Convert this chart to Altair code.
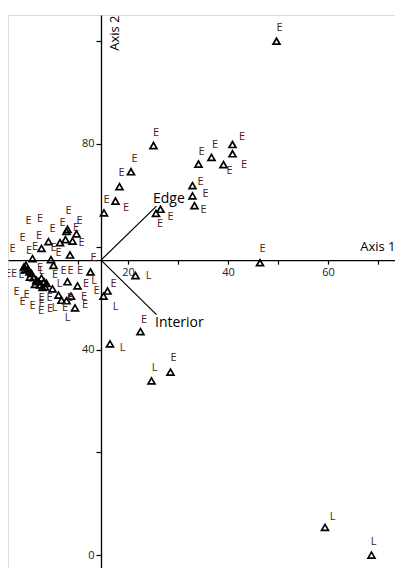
import altair as alt
import pandas as pd

# ---- site scores (triangles) ----
site_x = [49.7, 40.9, 40.9, 39.1, 36.7, 34.1, 32.9, 32.9, 33.3, 25.1, 20.6, 18.3, 17.5, 15.2,
          26.5, 25.6, 46.4, 21.5, 12.5, 15.9, 15.1, 22.5, 16.4, 28.5, 24.7, 59.4, 68.7,
          7.9, 7.7, 9.7, 4.1, 6.4, 7.5, 8.9, 2.7, 8.4, 0.9, 4.6, 5.1,
          -0.8, -0.4, -0.1, 0.3, 0.7, 1.1, 1.7, 2.1, 2.4, 2.9, 3.4, 3.2, 3.7, 2.7, -0.6, 0.4, 1.4,
          7.9, 9.9, 4.9, 6.1, 6.7, 7.7, 8.6, 9.4]
site_y = [100.0, 79.9, 78.1, 76.0, 77.4, 76.1, 71.9, 69.9, 68.0, 79.7, 74.6, 71.7, 68.9, 66.6,
          67.3, 66.5, 56.9, 54.4, 55.1, 51.4, 50.4, 43.5, 41.1, 35.6, 33.9, 5.4, 0.0,
          63.4, 63.0, 62.5, 61.0, 60.8, 61.4, 61.1, 59.7, 58.4, 57.7, 57.5, 56.4,
          56.1, 56.4, 55.7, 55.1, 54.8, 54.0, 53.5, 53.2, 52.6, 52.1, 52.2, 53.2, 52.9, 53.9, 55.5, 54.1, 52.7,
          53.2, 52.4, 51.8, 50.6, 49.6, 49.5, 50.4, 48.1]

# ---- group labels (E / L) ----
lab_text = ["E", "E", "E", "E", "E", "E", "E", "E", "E", "E", "E", "E", "E", "E", "E", "E", "E",
            "L", "E", "L", "E", "E", "L", "E", "L", "E", "L", "L", "L",
            "E", "E", "E", "E", "E", "E", "E", "E", "E", "E", "E", "E", "E", "E", "E",
            "E", "E", "E", "E", "L", "E", "E", "E", "E", "L", "E",
            "E", "E", "E", "E", "E", "E", "E", "E", "E", "L", "E", "L", "E", "E", "E"]
lab_x = [50.3, 42.8, 43.2, 40.3, 37.4, 34.7, 34.5, 35.5, 35.1, 25.6, 21.3, 18.7, 15.7, 19.6, 28.5, 26.4, 46.9,
         24.1, 13.1, 13.2, 17.1, 13.7, 17.5, 23.2, 18.9, 29.1, 25.3, 60.9, 69.1,
         8.1, 0.1, 2.4, 10.3, 6.9, 4.9, 9.6, -1.1, 2.2, 10.7, 1.4, 5.1, -3.1, 0.2, 6.1,
         -4.0, -2.8, -1.3, 2.4, 2.7, 5.4, 7.1, 8.5, 10.4, 6.3, 11.6,
         -2.3, -0.3, -1.1, 0.9, 2.7, 2.7, 4.3, 2.6, 4.4, 5.3, 7.4, 7.9, 8.4, 11.2, 11.4]
lab_y = [102.6, 81.3, 76.0, 74.7, 79.8, 78.5, 72.6, 70.3, 67.2, 82.1, 77.0, 74.3, 69.1, 67.6, 65.7, 64.4, 59.5,
         54.4, 57.8, 53.3, 52.8, 51.4, 48.3, 45.7, 40.4, 38.3, 36.5, 7.5, 2.6,
         67.0, 65.1, 65.4, 65.1, 64.6, 63.5, 63.6, 61.8, 62.1, 60.8, 60.0, 59.8, 59.5, 59.2, 58.7,
         54.8, 54.8, 54.5, 55.9, 55.2, 54.5, 55.3, 55.3, 55.3, 52.7, 52.7,
         51.3, 50.7, 49.3, 48.5, 50.1, 48.9, 50.1, 47.5, 47.9, 48.1, 48.0, 46.2, 50.1, 50.3, 48.7]

# ---- environmental vectors ----
centroid_x = 14.6
centroid_y = 57.4
vec_name = ["Edge", "Interior"]
vec_x = [25.7, 25.7]
vec_y = [67.9, 46.8]
vec_label_x = [25.0, 25.4]
vec_label_y = [69.3, 45.1]

X_DOMAIN = [-4.0, 73.4]
Y_DOMAIN = [-2.5, 105.1]
W, H = 387, 553

sites = pd.DataFrame({"x": site_x, "y": site_y})
labels = pd.DataFrame({"x": lab_x, "y": lab_y, "t": lab_text})
vecs = pd.DataFrame({"x0": [centroid_x] * 2, "y0": [centroid_y] * 2,
                     "x1": vec_x, "y1": vec_y, "name": vec_name,
                     "lx": vec_label_x, "ly": vec_label_y})

# pixel offset of axes so they cross at the centroid
x_off = -(H * (centroid_y - Y_DOMAIN[0]) / (Y_DOMAIN[1] - Y_DOMAIN[0]))
y_off = -(W * (centroid_x - X_DOMAIN[0]) / (X_DOMAIN[1] - X_DOMAIN[0]))

xs = alt.Scale(domain=X_DOMAIN, nice=False, zero=False)
ys = alt.Scale(domain=Y_DOMAIN, nice=False, zero=False)

FONT = "Open Sans"

x_axis = alt.Axis(values=[10, 20, 30, 40, 50, 60, 70],
                  labelExpr="(datum.value % 20 == 0 && datum.value > 0) ? datum.label : ''",
                  offset=x_off, grid=False, domainColor="black", domainWidth=1.3,
                  tickColor="black", tickSize=4, tickWidth=1.2, labelFont=FONT, labelFontSize=11,
                  labelColor="#222", labelPadding=2, labelFlush=False,
                  title="Axis 1", titleFont=FONT, titleFontSize=13, titleFontWeight="normal",
                  titleColor="black", titleX=W, titleY=-10, titleAlign="right",
                  titleBaseline="alphabetic", titleAnchor="end")
y_axis = alt.Axis(values=[0, 20, 40, 60, 80, 100],
                  labelExpr="(datum.value % 40 == 0) ? datum.label : ''",
                  offset=y_off, grid=False, domainColor="black", domainWidth=1.3,
                  tickColor="black", tickSize=5, tickWidth=1.2, labelFont=FONT, labelFontSize=11,
                  labelColor="#222", labelPadding=2, labelFlush=False,
                  title="Axis 2", titleFont=FONT, titleFontSize=13, titleFontWeight="normal",
                  titleColor="black", titleAngle=270, titleX=7, titleY=0, titleAlign="right",
                  titleBaseline="top", titleAnchor="end")

base_pts = alt.Chart(sites).mark_point(shape="triangle-up", filled=False, color="black",
                                      strokeWidth=1.7, size=48, opacity=1).encode(
    x=alt.X("x:Q", scale=xs, axis=x_axis),
    y=alt.Y("y:Q", scale=ys, axis=y_axis),
)

txt = alt.Chart(labels).mark_text(font=FONT, fontSize=11, color="#4b2020",
                                  align="center", baseline="middle").encode(
    x=alt.X("x:Q", scale=xs), y=alt.Y("y:Q", scale=ys), text="t:N")

vec_lines = alt.Chart(vecs).mark_rule(color="black", strokeWidth=1.2).encode(
    x=alt.X("x0:Q", scale=xs), y=alt.Y("y0:Q", scale=ys), x2="x1:Q", y2="y1:Q")

vec_text = alt.Chart(vecs).mark_text(font=FONT, fontSize=14, color="black",
                                     align="left", baseline="middle").encode(
    x=alt.X("lx:Q", scale=xs), y=alt.Y("ly:Q", scale=ys), text="name:N")

chart = alt.layer(base_pts, vec_lines, txt, vec_text).properties(
    width=W, height=H,
    autosize=alt.AutoSizeParams(type="none"),
    padding={"left": 0, "top": 7, "right": 0, "bottom": 0},
).configure_view(stroke=None).configure(background="white")

chart.save("out.html", embed_options={"renderer": "svg", "actions": False})
